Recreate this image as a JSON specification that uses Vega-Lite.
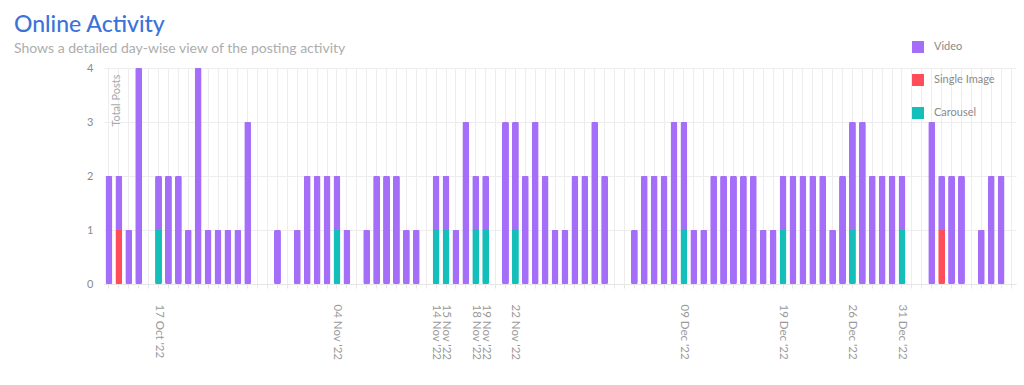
{
  "$schema": "https://vega.github.io/schema/vega-lite/v6.json",
  "width": 912,
  "height": 216,
  "autosize": "none",
  "padding": {"left": 104, "top": 68, "right": 8, "bottom": 101},
  "background": "white",
  "title": {
    "text": "Online Activity",
    "subtitle": "Shows a detailed day-wise view of the posting activity",
    "anchor": "start",
    "frame": "group",
    "dx": -90,
    "dy": 27,
    "offset": 12,
    "font": "Lato",
    "fontSize": 23,
    "fontWeight": 500,
    "color": "#3b73d9",
    "subtitleFont": "Lato",
    "subtitleFontSize": 14,
    "subtitleColor": "#adadad",
    "subtitlePadding": 5
  },
  "config": {
    "view": {"stroke": null},
    "font": "Lato"
  },
  "data": {
    "values": [
      {"date": "2022-10-12", "type": "Video", "count": 2},
      {"date": "2022-10-13", "type": "Video", "count": 1},
      {"date": "2022-10-13", "type": "Single Image", "count": 1},
      {"date": "2022-10-14", "type": "Video", "count": 1},
      {"date": "2022-10-15", "type": "Video", "count": 4},
      {"date": "2022-10-16", "type": "Video", "count": 0},
      {"date": "2022-10-17", "type": "Video", "count": 1},
      {"date": "2022-10-17", "type": "Carousel", "count": 1},
      {"date": "2022-10-18", "type": "Video", "count": 2},
      {"date": "2022-10-19", "type": "Video", "count": 2},
      {"date": "2022-10-20", "type": "Video", "count": 1},
      {"date": "2022-10-21", "type": "Video", "count": 4},
      {"date": "2022-10-22", "type": "Video", "count": 1},
      {"date": "2022-10-23", "type": "Video", "count": 1},
      {"date": "2022-10-24", "type": "Video", "count": 1},
      {"date": "2022-10-25", "type": "Video", "count": 1},
      {"date": "2022-10-26", "type": "Video", "count": 3},
      {"date": "2022-10-27", "type": "Video", "count": 0},
      {"date": "2022-10-28", "type": "Video", "count": 0},
      {"date": "2022-10-29", "type": "Video", "count": 1},
      {"date": "2022-10-30", "type": "Video", "count": 0},
      {"date": "2022-10-31", "type": "Video", "count": 1},
      {"date": "2022-11-01", "type": "Video", "count": 2},
      {"date": "2022-11-02", "type": "Video", "count": 2},
      {"date": "2022-11-03", "type": "Video", "count": 2},
      {"date": "2022-11-04", "type": "Video", "count": 1},
      {"date": "2022-11-04", "type": "Carousel", "count": 1},
      {"date": "2022-11-05", "type": "Video", "count": 1},
      {"date": "2022-11-06", "type": "Video", "count": 0},
      {"date": "2022-11-07", "type": "Video", "count": 1},
      {"date": "2022-11-08", "type": "Video", "count": 2},
      {"date": "2022-11-09", "type": "Video", "count": 2},
      {"date": "2022-11-10", "type": "Video", "count": 2},
      {"date": "2022-11-11", "type": "Video", "count": 1},
      {"date": "2022-11-12", "type": "Video", "count": 1},
      {"date": "2022-11-13", "type": "Video", "count": 0},
      {"date": "2022-11-14", "type": "Video", "count": 1},
      {"date": "2022-11-14", "type": "Carousel", "count": 1},
      {"date": "2022-11-15", "type": "Video", "count": 1},
      {"date": "2022-11-15", "type": "Carousel", "count": 1},
      {"date": "2022-11-16", "type": "Video", "count": 1},
      {"date": "2022-11-17", "type": "Video", "count": 3},
      {"date": "2022-11-18", "type": "Video", "count": 1},
      {"date": "2022-11-18", "type": "Carousel", "count": 1},
      {"date": "2022-11-19", "type": "Video", "count": 1},
      {"date": "2022-11-19", "type": "Carousel", "count": 1},
      {"date": "2022-11-20", "type": "Video", "count": 0},
      {"date": "2022-11-21", "type": "Video", "count": 3},
      {"date": "2022-11-22", "type": "Video", "count": 2},
      {"date": "2022-11-22", "type": "Carousel", "count": 1},
      {"date": "2022-11-23", "type": "Video", "count": 2},
      {"date": "2022-11-24", "type": "Video", "count": 3},
      {"date": "2022-11-25", "type": "Video", "count": 2},
      {"date": "2022-11-26", "type": "Video", "count": 1},
      {"date": "2022-11-27", "type": "Video", "count": 1},
      {"date": "2022-11-28", "type": "Video", "count": 2},
      {"date": "2022-11-29", "type": "Video", "count": 2},
      {"date": "2022-11-30", "type": "Video", "count": 3},
      {"date": "2022-12-01", "type": "Video", "count": 2},
      {"date": "2022-12-02", "type": "Video", "count": 0},
      {"date": "2022-12-03", "type": "Video", "count": 0},
      {"date": "2022-12-04", "type": "Video", "count": 1},
      {"date": "2022-12-05", "type": "Video", "count": 2},
      {"date": "2022-12-06", "type": "Video", "count": 2},
      {"date": "2022-12-07", "type": "Video", "count": 2},
      {"date": "2022-12-08", "type": "Video", "count": 3},
      {"date": "2022-12-09", "type": "Video", "count": 2},
      {"date": "2022-12-09", "type": "Carousel", "count": 1},
      {"date": "2022-12-10", "type": "Video", "count": 1},
      {"date": "2022-12-11", "type": "Video", "count": 1},
      {"date": "2022-12-12", "type": "Video", "count": 2},
      {"date": "2022-12-13", "type": "Video", "count": 2},
      {"date": "2022-12-14", "type": "Video", "count": 2},
      {"date": "2022-12-15", "type": "Video", "count": 2},
      {"date": "2022-12-16", "type": "Video", "count": 2},
      {"date": "2022-12-17", "type": "Video", "count": 1},
      {"date": "2022-12-18", "type": "Video", "count": 1},
      {"date": "2022-12-19", "type": "Video", "count": 1},
      {"date": "2022-12-19", "type": "Carousel", "count": 1},
      {"date": "2022-12-20", "type": "Video", "count": 2},
      {"date": "2022-12-21", "type": "Video", "count": 2},
      {"date": "2022-12-22", "type": "Video", "count": 2},
      {"date": "2022-12-23", "type": "Video", "count": 2},
      {"date": "2022-12-24", "type": "Video", "count": 1},
      {"date": "2022-12-25", "type": "Video", "count": 2},
      {"date": "2022-12-26", "type": "Video", "count": 2},
      {"date": "2022-12-26", "type": "Carousel", "count": 1},
      {"date": "2022-12-27", "type": "Video", "count": 3},
      {"date": "2022-12-28", "type": "Video", "count": 2},
      {"date": "2022-12-29", "type": "Video", "count": 2},
      {"date": "2022-12-30", "type": "Video", "count": 2},
      {"date": "2022-12-31", "type": "Video", "count": 1},
      {"date": "2022-12-31", "type": "Carousel", "count": 1},
      {"date": "2023-01-01", "type": "Video", "count": 0},
      {"date": "2023-01-02", "type": "Video", "count": 0},
      {"date": "2023-01-03", "type": "Video", "count": 3},
      {"date": "2023-01-04", "type": "Video", "count": 1},
      {"date": "2023-01-04", "type": "Single Image", "count": 1},
      {"date": "2023-01-05", "type": "Video", "count": 2},
      {"date": "2023-01-06", "type": "Video", "count": 2},
      {"date": "2023-01-07", "type": "Video", "count": 0},
      {"date": "2023-01-08", "type": "Video", "count": 1},
      {"date": "2023-01-09", "type": "Video", "count": 2},
      {"date": "2023-01-10", "type": "Video", "count": 2},
      {"date": "2023-01-11", "type": "Video", "count": 0}
    ]
  },
  "mark": {"type": "bar", "cornerRadius": 1.5},
  "encoding": {
    "x": {
      "field": "date",
      "type": "ordinal",
      "sort": "ascending",
      "scale": {"paddingInner": 0.3, "paddingOuter": 0.15},
      "axis": {
        "title": null,
        "labelAngle": 90,
        "labelColor": "#9a9a9a",
        "labelFontSize": 11.5,
        "labelPadding": 16,
        "labelOverlap": false,
        "labelExpr": "indexof(['2022-10-17','2022-11-04','2022-11-14','2022-11-15','2022-11-18','2022-11-19','2022-11-22','2022-12-09','2022-12-19','2022-12-26','2022-12-31'], datum.value) >= 0 ? utcFormat(toDate(datum.value), \"%d %b '%y\") : ''",
        "tickSize": 4,
        "tickColor": "#e6e6e6",
        "domainColor": "#e6e6e6",
        "grid": true,
        "gridColor": "#ededed"
      }
    },
    "y": {
      "field": "count",
      "type": "quantitative",
      "aggregate": "sum",
      "stack": "zero",
      "scale": {"domain": [0, 4], "nice": false},
      "axis": {
        "title": "Total Posts",
        "titleX": 17,
        "titleY": 6,
        "titleAngle": -90,
        "titleAlign": "right",
        "titleBaseline": "bottom",
        "titleFontSize": 11,
        "titleFontWeight": "normal",
        "titleColor": "#aaaaaa",
        "values": [0, 1, 2, 3, 4],
        "labelColor": "#8a8a8a",
        "labelFontSize": 11,
        "labelPadding": 11,
        "ticks": false,
        "domain": false,
        "gridColor": "#ededed"
      }
    },
    "color": {
      "field": "type",
      "type": "nominal",
      "scale": {
        "domain": ["Video", "Single Image", "Carousel"],
        "range": ["#a46ef9", "#ff4d5a", "#13bfb8"]
      },
      "legend": {
        "title": null,
        "orient": "none",
        "legendX": 808,
        "legendY": -27,
        "symbolType": "square",
        "symbolSize": 144,
        "symbolStrokeWidth": 0,
        "symbolOpacity": 1,
        "labelColor": "#8a8a8a",
        "labelFontSize": 11,
        "labelOffset": 10,
        "rowPadding": 21
      }
    },
    "order": {"field": "type", "sort": "ascending"}
  }
}
